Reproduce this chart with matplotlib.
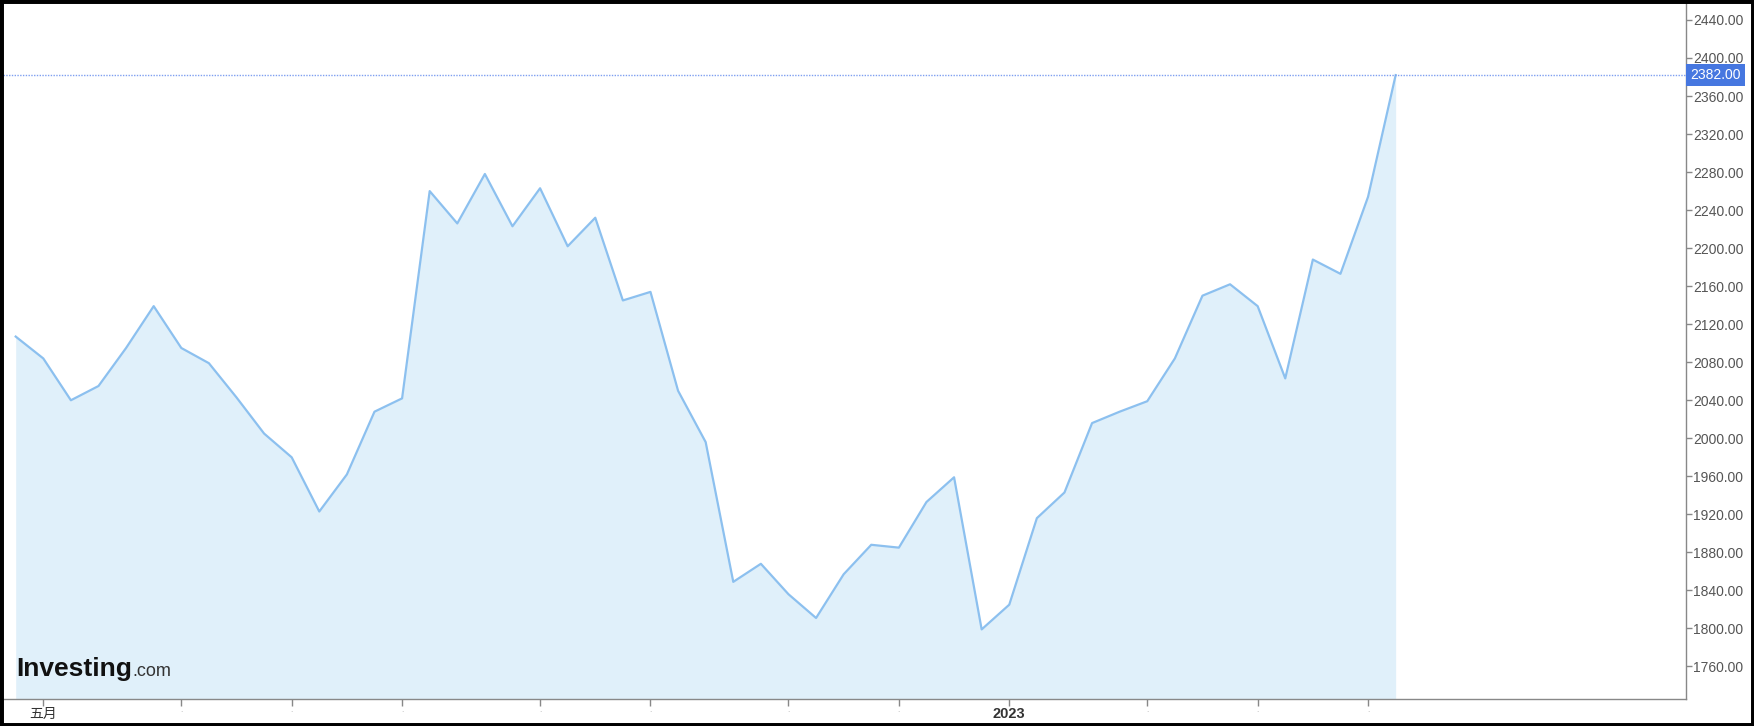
import matplotlib
matplotlib.use("Agg")
import matplotlib.pyplot as plt
import pandas as pd
from matplotlib.patches import Rectangle
from matplotlib.transforms import blended_transform_factory

plt.rcParams['font.family'] = ['Liberation Sans', 'Noto Sans CJK SC', 'DejaVu Sans']

# weekly closes
prices = [2107, 2084, 2040, 2055, 2095, 2139, 2095, 2079, 2043, 2005,
          1980, 1923, 1962, 2028, 2042, 2260, 2226, 2278, 2223, 2263,
          2202, 2232, 2145, 2154, 2050, 1996, 1849, 1868, 1836, 1811,
          1857, 1888, 1885, 1933, 1959, 1799, 1825, 1916, 1943, 2016,
          2028, 2039, 2084, 2150, 2162, 2139, 2063, 2188, 2173, 2254,
          2382]
start_date = "2022-04-25"
y_ticks = list(range(1760, 2441, 40))

dates = pd.date_range(start_date, periods=len(prices), freq="7D")
last_price = prices[-1]

W, H = 1754, 726
fig = plt.figure(figsize=(W / 100, H / 100), dpi=100)
ax = fig.add_axes([3 / W, 27 / H, 1683 / W, 697 / H])

ax.fill_between(dates, prices, 1700, color="#e0f0fa", lw=0)
ax.plot(dates, prices, color="#8cc0ef", lw=1.6)
ax.axhline(last_price, color="#7f9ff0", lw=1, ls=(0, (1, 1)))

week = pd.Timedelta(days=7)
ax.set_xlim(dates[0] - 0.46 * week, dates[0] + 60.52 * week)
ax.set_ylim(1725.8, 2458.9)

# y axis on the right
ax.yaxis.tick_right()
ax.set_yticks(y_ticks)
ax.set_yticklabels([f"{v:.2f}" for v in y_ticks])
ax.tick_params(axis="y", length=4, width=1, color="#888888", labelsize=10,
               labelcolor="#555555", pad=1)

# month ticks: first week of each month
tick_idx = [i for i in range(1, len(dates)) if dates[i].month != dates[i - 1].month]
labels = []
for i in tick_idx:
    if dates[i].month == 5:
        labels.append("五月")
    elif dates[i].month == 1:
        labels.append(str(dates[i].year))
    else:
        labels.append(".")
ax.set_xticks(dates[tick_idx])
ax.set_xticklabels(labels)
ax.tick_params(axis="x", length=5, width=1, color="#888888", labelsize=10,
               labelcolor="#333333", pad=0.5)
for lab in ax.get_xticklabels():
    if lab.get_text() == ".":
        lab.set_color("#aaaaaa")
        lab.set_fontsize(6)
    elif lab.get_text().isdigit():
        lab.set_fontweight("bold")
        lab.set_fontsize(10.5)

for side in ["left", "top"]:
    ax.spines[side].set_visible(False)
for side in ["right", "bottom"]:
    ax.spines[side].set_color("#888888")
    ax.spines[side].set_linewidth(1)

# current price tag
trans = blended_transform_factory(ax.transAxes, ax.transData)
ax.annotate(f"{last_price:.2f}", xy=(1, last_price), xycoords=trans,
            xytext=(3, 0), textcoords="offset points", ha="left", va="center",
            color="white", fontsize=10, annotation_clip=False, zorder=10,
            bbox=dict(boxstyle="square,pad=0.3", fc="#4677e0", ec="none"))

# logo
logo = fig.text(16 / W, 1 - 676 / H, "Investing", fontsize=19, fontweight="bold",
                color="#111111", va="baseline")
fig.canvas.draw()
bb = logo.get_window_extent()
fig.text(bb.x1 / W, 1 - 676 / H, ".com", fontsize=13, color="#333333", va="baseline")

# black frame round the picture
fig.patches.append(Rectangle((0, 0), 1, 1, transform=fig.transFigure, fill=False,
                             ec="black", lw=5, zorder=20))

fig.savefig("out.png", dpi=100)
